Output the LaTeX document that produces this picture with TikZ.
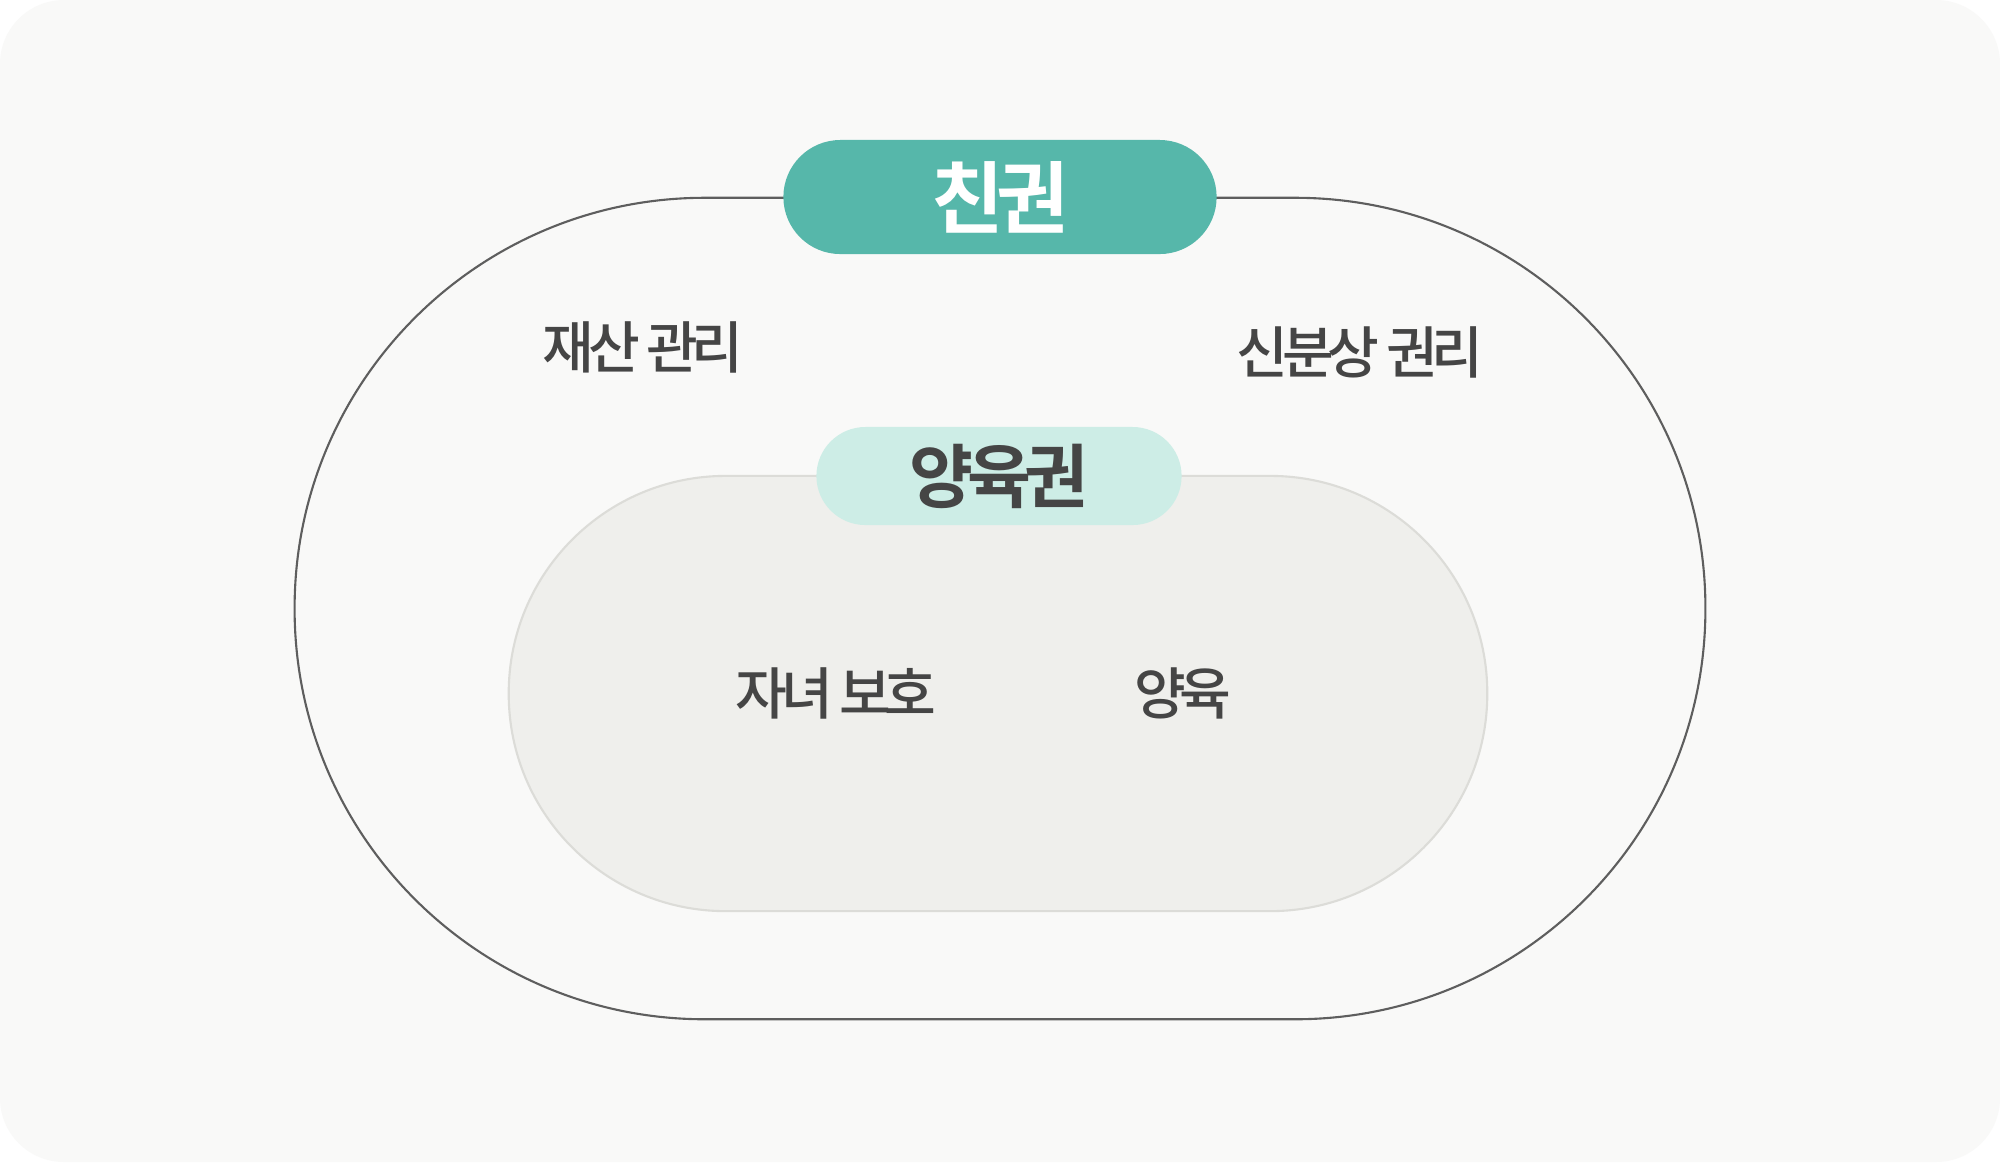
\documentclass[tikz,border=0pt]{standalone}
\usepackage{fontspec}
\newfontfamily\krfont{Noto Sans CJK KR Medium}[LetterSpace=-11]
\newfontfamily\krbold{Noto Sans CJK KR Bold}[LetterSpace=-10]
\definecolor{pagebg}{HTML}{F9F9F8}
\definecolor{outerline}{HTML}{5E5E5E}
\definecolor{innerline}{HTML}{DCDCD8}
\definecolor{innerfill}{HTML}{EFEFEC}
\definecolor{teal}{HTML}{56B7AA}
\definecolor{mint}{HTML}{CDEDE6}
\definecolor{ink}{HTML}{454545}

\begin{document}
\begin{tikzpicture}[x=0.01cm,y=-0.01cm,
    label/.style={text=ink,font=\krfont\fontsize{16}{19}\selectfont},
    pill/.style={inner sep=0pt,minimum width=#1}]

  \useasboundingbox (0,0) rectangle (2000,1162);
  \fill[white] (0,0) rectangle (2000,1162);
  \fill[pagebg,rounded corners=0.64cm] (0,0) rectangle (2000,1162);

  \begin{scope}[every node/.style={inner sep=0pt}]
    \node[draw=outerline,line width=0.6pt,rounded corners=4.1cm,
          minimum width=14.1cm,minimum height=8.21cm] (outer) at (1000,608.5) {};
    \node[draw=innerline,fill=innerfill,line width=0.6pt,rounded corners=2.17cm,
          minimum width=9.78cm,minimum height=4.35cm] (inner) at (998,693.5) {};
  \end{scope}

  \node[pill=4.33cm,fill=teal,minimum height=1.14cm,rounded corners=0.57cm,
        text=white,font=\krbold\fontsize{22.4}{26}\selectfont] (parent) at (1000,197) {친권};
  \node[pill=3.65cm,fill=mint,minimum height=0.98cm,rounded corners=0.49cm,
        text=ink,font=\krbold\fontsize{19.8}{23}\selectfont] (custody) at (999,476) {양육권};

  \node[label] (property) at (643,347)  {재산 관리};
  \node[label] (status)   at (1360,352) {신분상 권리};
  \node[label] (protect)  at (836,693)  {자녀 보호};
  \node[label] (rearing)  at (1183,693) {양육};

\end{tikzpicture}
\end{document}
